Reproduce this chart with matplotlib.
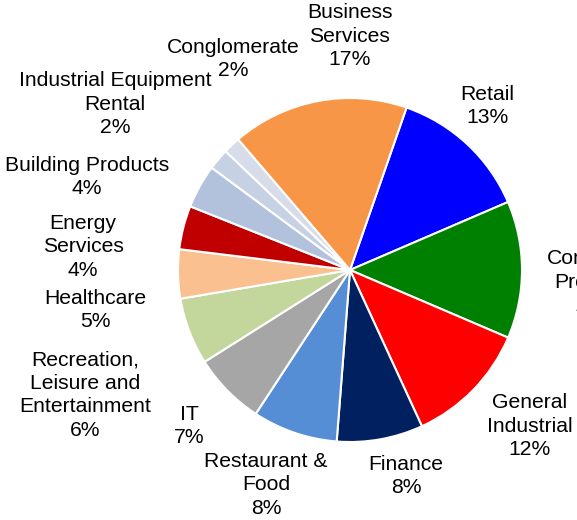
import matplotlib
matplotlib.use("Agg")
import matplotlib.pyplot as plt

plt.rcParams['font.family'] = ['Liberation Sans', 'DejaVu Sans']

# sector shares (%), clockwise starting from Retail
sectors = ['Retail', 'Consumer\nProducts', 'General\nIndustrial', 'Finance',
           'Restaurant &\nFood', 'IT', 'Recreation,\nLeisure and\nEntertainment',
           'Healthcare', 'Energy\nServices', 'Building Products',
           'Industrial Equipment\nRental', 'Conglomerate', 'Business\nServices']
shares = [13.2, 12.9, 11.7, 8.1, 8.0, 6.8, 6.3, 4.6, 4.1, 4.1, 2.0, 1.6, 16.6]

colors = ['#0000FF', '#008000', '#FF0000', '#002060', '#558ED5', '#A6A6A6',
          '#C3D69B', '#FAC090', '#C00000', '#B3C2DC', '#C7D1E4', '#D6DCEA',
          '#F79646']

# label centres in pixels (x from left, y from top)
label_pos = [(487, 106), (596, 282), (530, 426), (406, 476), (266, 485),
             (189, 426), (85, 395), (95, 310), (83, 247), (87, 177),
             (115, 104), (233, 59), (350, 36)]

W, H = 577, 520
fig = plt.figure(figsize=(W / 100, H / 100), dpi=100)
cx, cy, r = 350, 270, 172
ax = fig.add_axes([(cx - r) / W, (H - cy - r) / H, 2 * r / W, 2 * r / H])

ax.pie(shares, colors=colors, startangle=70.8, counterclock=False,
       wedgeprops=dict(edgecolor='white', linewidth=1.5))
ax.set_xlim(-1, 1)
ax.set_ylim(-1, 1)
ax.set_aspect('equal')
ax.axis('off')

for name, v, (x, y) in zip(sectors, shares, label_pos):
    fig.text(x / W, 1 - y / H, f"{name}\n{int(round(v))}%", ha='center',
             va='center', fontsize=15.2, linespacing=1.3, color='black',
             multialignment='center')

fig.savefig('out.png', dpi=100)
